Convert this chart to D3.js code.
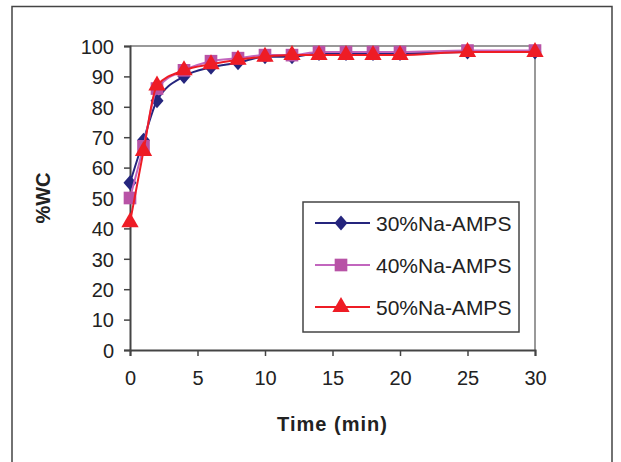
<!DOCTYPE html>
<html>
<head>
<meta charset="utf-8">
<script src="https://cdn.jsdelivr.net/npm/d3@7"></script>
<style>
  body { margin: 0; background: #fff; }
  svg { display: block; font-family: Arial, "Liberation Sans", sans-serif; }
</style>
</head>
<body>
<svg id="chart" width="621" height="462"></svg>
<script>
// time points (min)
var times = [0, 1, 2, 4, 6, 8, 10, 12, 14, 16, 18, 20, 25, 30];
// %WC for each Na-AMPS content
var wc30 = [55, 69, 82, 90, 93, 94.5, 96.5, 96.5, 97.5, 97.5, 97.5, 97.5, 98, 98];
var wc40 = [50, 67, 86, 92, 95, 96, 97, 97, 98, 98, 98, 98, 98.5, 98.5];
var wc50 = [42, 65.5, 87, 92, 94, 95.5, 96.5, 97, 97, 97, 97, 97, 98, 98];
var seriesNames = ["30%Na-AMPS", "40%Na-AMPS", "50%Na-AMPS"];
var xTicks = [0, 5, 10, 15, 20, 25, 30];
var yTicks = [0, 10, 20, 30, 40, 50, 60, 70, 80, 90, 100];

var svg = d3.select("#chart");
var margin = {left: 130, top: 46, right: 86, bottom: 112};
var W = 621, H = 462;

var x = d3.scaleLinear().domain([0, 30]).range([margin.left, W - margin.right]);
var y = d3.scaleLinear().domain([0, 100]).range([H - margin.bottom, margin.top]);

//outer frame (runs off the bottom of the page)
svg.append("path")
    .attr("d", "M12,470 L12,6.5 L612,6.5 L612,470")
    .attr("fill", "none").attr("stroke", "#444").attr("stroke-width", 1.5);

//plot area border, gray on top and right
svg.append("path")
    .attr("d", "M" + x(0) + "," + y(100) + " L" + x(30) + "," + y(100) + " L" + x(30) + "," + y(0))
    .attr("fill", "none").attr("stroke", "#999").attr("stroke-width", 2);

var xAxis = svg.append("g")
    .attr("transform", "translate(0," + y(0) + ")")
    .call(d3.axisBottom(x).tickValues(xTicks).tickSizeOuter(0).tickSize(6).tickPadding(10));
var yAxis = svg.append("g")
    .attr("transform", "translate(" + x(0) + ",0)")
    .call(d3.axisLeft(y).tickValues(yTicks).tickSizeOuter(0).tickSize(6).tickPadding(10));

[xAxis, yAxis].forEach(function(g){
    g.select(".domain").attr("stroke", "#444").attr("stroke-width", 2);
    g.selectAll(".tick line").attr("stroke", "#444").attr("stroke-width", 1.5);
    g.selectAll("text").attr("fill", "#222").style("font-size", "20px")
        .style("font-family", "Arial, 'Liberation Sans', sans-serif");
});
xAxis.selectAll("text").attr("dy", "0.95em");
yAxis.selectAll("text").attr("dy", "0.36em");

//axis titles
svg.append("text")
    .attr("x", x(15)).attr("y", 431)
    .attr("text-anchor", "middle")
    .style("font-size", "20px").style("font-weight", "bold").style("letter-spacing", "1px")
    .attr("fill", "#222")
    .text("Time (min)");
svg.append("text")
    .attr("transform", "translate(50,198) rotate(-90)")
    .attr("text-anchor", "middle")
    .style("font-size", "20px").style("font-weight", "bold")
    .attr("fill", "#222")
    .text("%WC");

// rhombus marker, a bit wider than d3's diamond
var rhombus = {
    draw: function(ctx, size){
        var w = 6.5, h = 7.5;
        ctx.moveTo(0, -h); ctx.lineTo(w, 0); ctx.lineTo(0, h); ctx.lineTo(-w, 0); ctx.closePath();
    }
};

var series = [
    {name: seriesNames[0], values: wc30, line: "#25257d", fill: "#25257d", shape: rhombus, size: 90},
    {name: seriesNames[1], values: wc40, line: "#c266be", fill: "#b853a6", shape: d3.symbolSquare, size: 160},
    {name: seriesNames[2], values: wc50, line: "#ee1c25", fill: "#ee1c25", shape: d3.symbolTriangle, size: 130}
];

var line = d3.line()
    .x(function(d){ return x(d[0]); })
    .y(function(d){ return y(d[1]); })
    .curve(d3.curveMonotoneX);

series.forEach(function(s){
    var pts = times.map(function(t, i){ return [t, s.values[i]]; });
    svg.append("path")
        .datum(pts)
        .attr("d", line)
        .attr("fill", "none")
        .attr("stroke", s.line)
        .attr("stroke-width", 2);
    svg.selectAll(null).data(pts).enter().append("path")
        .attr("transform", function(d){ return "translate(" + x(d[0]) + "," + y(d[1]) + ")"; })
        .attr("d", d3.symbol().type(s.shape).size(s.size))
        .attr("fill", s.fill);
});

//legend
var legend = svg.append("g");
legend.append("rect")
    .attr("x", 303).attr("y", 202).attr("width", 216).attr("height", 130)
    .attr("fill", "#fff").attr("stroke", "#444").attr("stroke-width", 1.5);
series.forEach(function(s, i){
    var ly = 223 + i * 42;
    legend.append("line")
        .attr("x1", 315).attr("x2", 370).attr("y1", ly).attr("y2", ly)
        .attr("stroke", s.line).attr("stroke-width", 2);
    legend.append("path")
        .attr("transform", "translate(341," + ly + ")")
        .attr("d", d3.symbol().type(s.shape).size(s.size))
        .attr("fill", s.fill);
    legend.append("text")
        .attr("x", 376).attr("y", ly).attr("dy", "0.36em")
        .style("font-size", "21px").attr("fill", "#222")
        .text(s.name);
});
</script>
</body>
</html>
